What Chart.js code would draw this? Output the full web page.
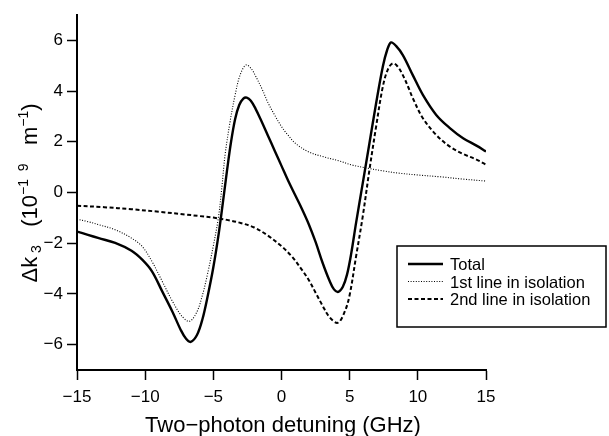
<!DOCTYPE html>
<html lang="en">
<head>
<meta charset="UTF-8">
<title>Δk3 vs two-photon detuning</title>
<script src="https://cdn.jsdelivr.net/npm/chart.js"></script>
<style>
  html, body { margin: 0; padding: 0; background: #fff; }
</style>
</head>
<body>
<canvas id="chart" width="609" height="436"></canvas>
<script>
// detuning in GHz, Δk3 in units of 1e-19 m^-1
const totalX = [-15, -14.2, -13.4, -12.2, -11, -10.2, -9.5, -8.75, -8, -7.4, -7, -6.66, -6.2, -5.8, -5.4, -5, -4.6, -4.3, -4, -3.7, -3.4, -3.1, -2.8, -2.55, -2.25, -1.9, -1.5, -1, -0.5, 0, 0.5, 1, 1.5, 2, 2.5, 3, 3.5, 3.85, 4.17, 4.5, 4.8, 5.1, 5.47, 5.96, 6.45, 6.94, 7.43, 7.75, 8.04, 8.4, 8.9, 9.63, 10.37, 11.35, 12.35, 13.32, 14.3, 15];
const totalY = [-1.54, -1.67, -1.8, -1.99, -2.3, -2.66, -3.11, -3.9, -4.7, -5.41, -5.77, -5.89, -5.62, -5, -4.05, -2.95, -1.6, -0.4, 0.85, 2, 2.9, 3.45, 3.7, 3.74, 3.62, 3.3, 2.85, 2.25, 1.65, 1.05, 0.45, -0.1, -0.65, -1.25, -1.95, -2.75, -3.45, -3.82, -3.92, -3.72, -3.25, -2.45, -1.2, 0.37, 1.94, 3.52, 4.96, 5.62, 5.92, 5.78, 5.42, 4.63, 3.85, 3.06, 2.54, 2.14, 1.85, 1.62];

const firstX = [-15, -14.2, -13.4, -12.2, -11, -10.2, -9.5, -8.75, -8, -7.3, -6.74, -6.2, -5.8, -5.4, -5, -4.63, -4.38, -4.14, -3.77, -3.4, -3.04, -2.6, -2.2, -1.88, -1.4, -1, -0.5, 0, 0.5, 1.06, 2, 3, 4.2, 5.2, 6.3, 7.5, 8.5, 10, 11.6, 13.3, 15];
const firstY = [-1.05, -1.15, -1.27, -1.47, -1.8, -2.14, -2.72, -3.5, -4.29, -4.88, -5.08, -4.7, -4.05, -3.15, -2.1, -1, 0.17, 1.48, 2.8, 3.85, 4.63, 5.03, 4.87, 4.57, 4.05, 3.55, 3.05, 2.6, 2.25, 1.92, 1.6, 1.42, 1.25, 1.08, 0.96, 0.85, 0.77, 0.69, 0.62, 0.53, 0.45];

const secondX = [-15, -13, -11, -9, -7, -6, -5, -4, -3, -2, -1, 0, 0.8, 1.5, 2, 2.5, 3, 3.5, 4.12, 4.6, 4.98, 5.47, 5.96, 6.45, 6.94, 7.43, 7.8, 8.15, 8.5, 8.9, 9.3, 9.63, 10.37, 11.35, 12.35, 13.32, 14.3, 15];
const secondY = [-0.52, -0.58, -0.66, -0.76, -0.87, -0.93, -0.99, -1.08, -1.2, -1.38, -1.7, -2.12, -2.55, -3.05, -3.45, -3.95, -4.45, -4.9, -5.14, -4.75, -4.09, -2.52, -0.94, 0.89, 2.6, 4.17, 4.85, 5.09, 4.98, 4.63, 4.15, 3.72, 2.93, 2.27, 1.81, 1.52, 1.3, 1.1];

const xTicks = [-15, -10, -5, 0, 5, 10, 15];
const yTicks = [-6, -4, -2, 0, 2, 4, 6];
const seriesNames = ['Total', '1st line in isolation', '2nd line in isolation'];

const FONT = '"Liberation Sans", Arial, sans-serif';
const fmt = v => (v < 0 ? '\u2212' + Math.abs(v) : String(v));
const pts = (xs, ys) => xs.map((x, i) => ({ x: x, y: ys[i] }));

const styles = [
  { width: 2.4, dash: [] },
  { width: 1.1, dash: [1, 1.6] },
  { width: 2, dash: [4, 2.5] }
];

// axis titles and the boxed legend
const decorations = {
  id: 'decorations',
  afterDraw(chart) {
    const ctx = chart.ctx;
    ctx.save();
    ctx.fillStyle = '#000';
    ctx.textBaseline = 'alphabetic';

    // x title
    ctx.font = '22px ' + FONT;
    ctx.textAlign = 'center';
    ctx.fillText('Two\u2212photon detuning (GHz)', 283, 432);

    // y title, rotated, with sub/superscripts
    const big = '22px ' + FONT, small = '14px ' + FONT;
    const parts = [
      { t: '\u0394k', f: big, dy: 0 },
      { t: ' 3', f: small, dy: 4 },
      { t: '   (10', f: big, dy: 0 },
      { t: '\u22121  9', f: small, dy: -9 },
      { t: '   m', f: big, dy: 0 },
      { t: '\u22121', f: small, dy: -9 },
      { t: ')', f: big, dy: 0 }
    ];
    let total = 0;
    parts.forEach(p => { ctx.font = p.f; p.w = ctx.measureText(p.t).width; total += p.w; });
    ctx.translate(37, 193);
    ctx.rotate(-Math.PI / 2);
    ctx.textAlign = 'left';
    let x = -total / 2;
    parts.forEach(p => { ctx.font = p.f; ctx.fillText(p.t, x, p.dy); x += p.w; });
    ctx.setTransform(1, 0, 0, 1, 0, 0);

    // legend box
    const bx = 397, by = 246, bw = 209, bh = 81;
    ctx.fillStyle = '#fff';
    ctx.fillRect(bx, by, bw, bh);
    ctx.strokeStyle = '#000';
    ctx.lineWidth = 1.5;
    ctx.strokeRect(bx, by, bw, bh);
    ctx.font = '16.5px ' + FONT;
    ctx.fillStyle = '#000';
    seriesNames.forEach((name, i) => {
      const y = 264 + i * 17.5;
      ctx.lineWidth = styles[i].width;
      ctx.setLineDash(styles[i].dash);
      ctx.beginPath();
      ctx.moveTo(408, y);
      ctx.lineTo(443, y);
      ctx.stroke();
      ctx.fillText(name, 450, y + 6);
    });
    ctx.restore();
  }
};

const datasets = [pts(totalX, totalY), pts(firstX, firstY), pts(secondX, secondY)].map((d, i) => ({
  label: seriesNames[i],
  data: d,
  borderColor: '#000',
  borderWidth: styles[i].width,
  borderDash: styles[i].dash,
  pointRadius: 0,
  fill: false,
  tension: 0.35
}));

new Chart(document.getElementById('chart'), {
  type: 'line',
  data: { datasets: datasets },
  options: {
    responsive: false,
    animation: false,
    layout: { padding: { top: 15, right: 123, left: 0, bottom: 0 } },
    plugins: { legend: { display: false }, tooltip: { enabled: false } },
    scales: {
      x: {
        type: 'linear',
        min: -15,
        max: 15,
        afterBuildTicks: s => { s.ticks = xTicks.map(v => ({ value: v })); },
        afterFit: s => { s.height = 66; },
        ticks: { color: '#000', font: { family: FONT, size: 17 }, padding: 7, maxRotation: 0, callback: fmt },
        grid: { drawOnChartArea: false, tickLength: 10, tickWidth: 1.5, tickColor: '#000' },
        border: { color: '#000', width: 2 }
      },
      y: {
        type: 'linear',
        min: -7,
        max: 7,
        afterBuildTicks: s => { s.ticks = yTicks.map(v => ({ value: v })); },
        afterFit: s => { s.width = 77; },
        ticks: { color: '#000', font: { family: FONT, size: 17 }, padding: 4, callback: fmt },
        grid: { drawOnChartArea: false, tickLength: 10, tickWidth: 1.5, tickColor: '#000' },
        border: { color: '#000', width: 2 }
      }
    }
  },
  plugins: [decorations]
});
</script>
</body>
</html>
